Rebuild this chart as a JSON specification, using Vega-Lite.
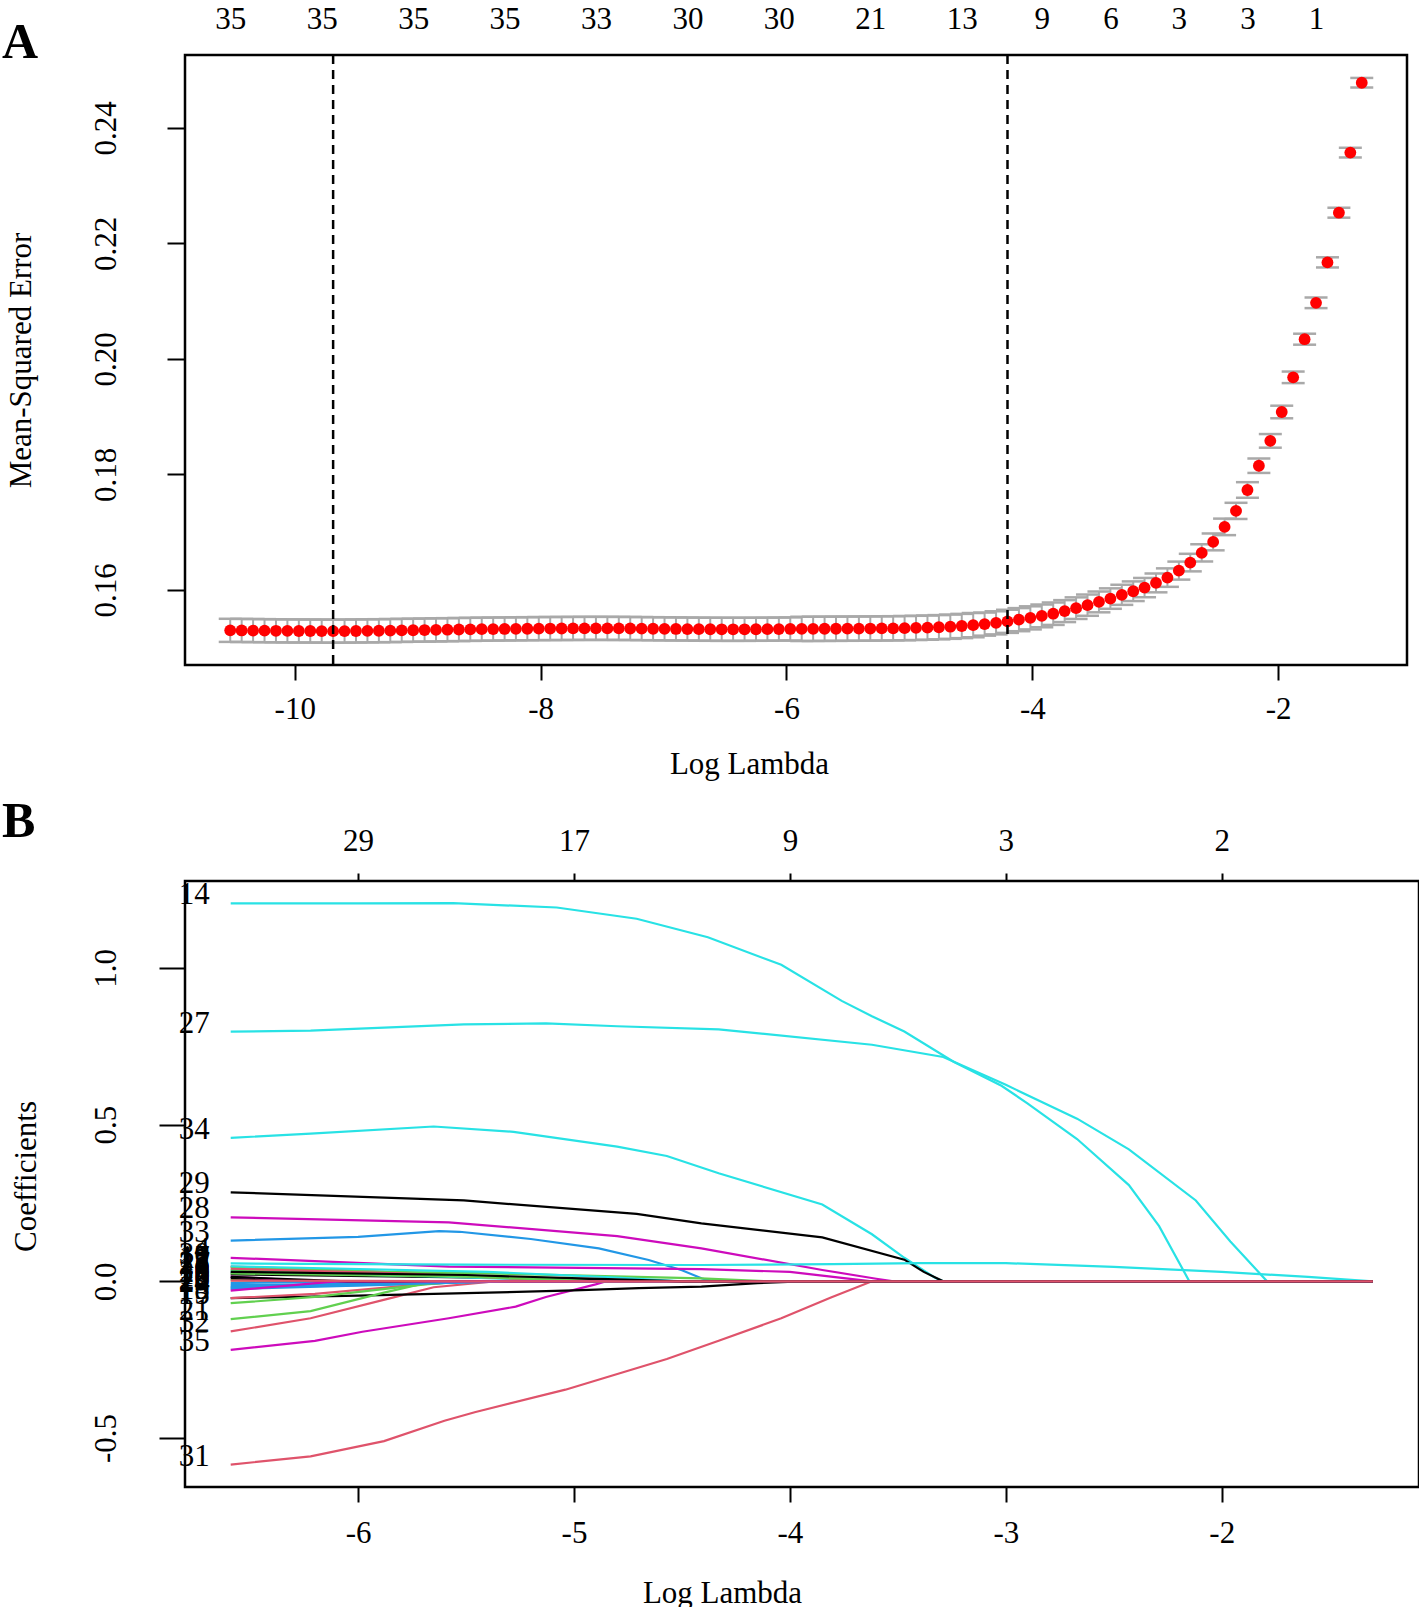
{
"$schema": "https://vega.github.io/schema/vega-lite/v6.json",
"background": "white",
"padding": {"left": 0, "right": 0, "top": 1, "bottom": 0},
"spacing": 14,
"config": {
  "font": "Liberation Serif",
  "view": {"stroke": "black", "strokeWidth": 2.5},
  "axis": {"domain": false, "grid": false, "labelFont": "Liberation Serif", "titleFont": "Liberation Serif", "labelFontSize": 31, "titleFontSize": 31, "labelColor": "black", "titleColor": "black", "tickColor": "black", "tickWidth": 2, "titleFontWeight": "normal", "labelOverlap": false, "labelFlush": false}
},
"vconcat": [
{
  "width": 1222, "height": 610,
  "title": {"text": "A", "anchor": "start", "frame": "group", "orient": "top", "offset": 0, "dx": -183, "dy": 105, "fontSize": 50, "fontWeight": "bold", "font": "Liberation Serif", "baseline": "alphabetic", "color": "black"},
  "data": {"values": [
{"lam":-10.525,"mse":0.15300,"up":0.15500,"lo":0.15100},
{"lam":-10.432,"mse":0.15298,"up":0.15498,"lo":0.15098},
{"lam":-10.339,"mse":0.15296,"up":0.15496,"lo":0.15096},
{"lam":-10.246,"mse":0.15294,"up":0.15494,"lo":0.15094},
{"lam":-10.153,"mse":0.15292,"up":0.15492,"lo":0.15092},
{"lam":-10.060,"mse":0.15290,"up":0.15490,"lo":0.15090},
{"lam":-9.967,"mse":0.15289,"up":0.15489,"lo":0.15089},
{"lam":-9.874,"mse":0.15288,"up":0.15488,"lo":0.15088},
{"lam":-9.781,"mse":0.15287,"up":0.15487,"lo":0.15087},
{"lam":-9.688,"mse":0.15286,"up":0.15486,"lo":0.15086},
{"lam":-9.595,"mse":0.15287,"up":0.15487,"lo":0.15087},
{"lam":-9.502,"mse":0.15289,"up":0.15489,"lo":0.15089},
{"lam":-9.409,"mse":0.15291,"up":0.15491,"lo":0.15091},
{"lam":-9.316,"mse":0.15293,"up":0.15493,"lo":0.15093},
{"lam":-9.223,"mse":0.15296,"up":0.15496,"lo":0.15096},
{"lam":-9.130,"mse":0.15299,"up":0.15499,"lo":0.15099},
{"lam":-9.037,"mse":0.15302,"up":0.15502,"lo":0.15102},
{"lam":-8.944,"mse":0.15305,"up":0.15505,"lo":0.15105},
{"lam":-8.851,"mse":0.15308,"up":0.15508,"lo":0.15108},
{"lam":-8.758,"mse":0.15311,"up":0.15511,"lo":0.15111},
{"lam":-8.665,"mse":0.15314,"up":0.15514,"lo":0.15114},
{"lam":-8.572,"mse":0.15317,"up":0.15517,"lo":0.15117},
{"lam":-8.479,"mse":0.15320,"up":0.15520,"lo":0.15120},
{"lam":-8.386,"mse":0.15322,"up":0.15522,"lo":0.15122},
{"lam":-8.293,"mse":0.15324,"up":0.15524,"lo":0.15124},
{"lam":-8.201,"mse":0.15326,"up":0.15526,"lo":0.15126},
{"lam":-8.108,"mse":0.15328,"up":0.15528,"lo":0.15128},
{"lam":-8.015,"mse":0.15330,"up":0.15530,"lo":0.15130},
{"lam":-7.922,"mse":0.15331,"up":0.15531,"lo":0.15131},
{"lam":-7.829,"mse":0.15332,"up":0.15532,"lo":0.15132},
{"lam":-7.736,"mse":0.15333,"up":0.15533,"lo":0.15133},
{"lam":-7.643,"mse":0.15334,"up":0.15534,"lo":0.15134},
{"lam":-7.550,"mse":0.15334,"up":0.15534,"lo":0.15134},
{"lam":-7.457,"mse":0.15334,"up":0.15534,"lo":0.15134},
{"lam":-7.364,"mse":0.15333,"up":0.15533,"lo":0.15133},
{"lam":-7.271,"mse":0.15332,"up":0.15532,"lo":0.15132},
{"lam":-7.178,"mse":0.15330,"up":0.15530,"lo":0.15130},
{"lam":-7.085,"mse":0.15328,"up":0.15528,"lo":0.15128},
{"lam":-6.992,"mse":0.15326,"up":0.15526,"lo":0.15126},
{"lam":-6.899,"mse":0.15324,"up":0.15524,"lo":0.15124},
{"lam":-6.806,"mse":0.15322,"up":0.15522,"lo":0.15122},
{"lam":-6.713,"mse":0.15320,"up":0.15520,"lo":0.15120},
{"lam":-6.620,"mse":0.15319,"up":0.15519,"lo":0.15119},
{"lam":-6.527,"mse":0.15318,"up":0.15518,"lo":0.15118},
{"lam":-6.434,"mse":0.15318,"up":0.15518,"lo":0.15118},
{"lam":-6.341,"mse":0.15318,"up":0.15518,"lo":0.15118},
{"lam":-6.248,"mse":0.15319,"up":0.15519,"lo":0.15119},
{"lam":-6.155,"mse":0.15320,"up":0.15520,"lo":0.15120},
{"lam":-6.062,"mse":0.15322,"up":0.15522,"lo":0.15122},
{"lam":-5.969,"mse":0.15324,"up":0.15524,"lo":0.15124},
{"lam":-5.876,"mse":0.15325,"up":0.15535,"lo":0.15115},
{"lam":-5.783,"mse":0.15326,"up":0.15536,"lo":0.15116},
{"lam":-5.690,"mse":0.15327,"up":0.15537,"lo":0.15117},
{"lam":-5.597,"mse":0.15328,"up":0.15538,"lo":0.15118},
{"lam":-5.504,"mse":0.15329,"up":0.15539,"lo":0.15119},
{"lam":-5.411,"mse":0.15330,"up":0.15540,"lo":0.15120},
{"lam":-5.318,"mse":0.15331,"up":0.15541,"lo":0.15121},
{"lam":-5.225,"mse":0.15333,"up":0.15543,"lo":0.15123},
{"lam":-5.132,"mse":0.15335,"up":0.15545,"lo":0.15125},
{"lam":-5.039,"mse":0.15338,"up":0.15548,"lo":0.15128},
{"lam":-4.946,"mse":0.15342,"up":0.15552,"lo":0.15132},
{"lam":-4.853,"mse":0.15347,"up":0.15557,"lo":0.15137},
{"lam":-4.760,"mse":0.15354,"up":0.15564,"lo":0.15144},
{"lam":-4.667,"mse":0.15363,"up":0.15573,"lo":0.15153},
{"lam":-4.574,"mse":0.15375,"up":0.15585,"lo":0.15165},
{"lam":-4.481,"mse":0.15390,"up":0.15600,"lo":0.15180},
{"lam":-4.388,"mse":0.15408,"up":0.15608,"lo":0.15208},
{"lam":-4.295,"mse":0.15430,"up":0.15630,"lo":0.15230},
{"lam":-4.202,"mse":0.15456,"up":0.15656,"lo":0.15256},
{"lam":-4.109,"mse":0.15485,"up":0.15685,"lo":0.15285},
{"lam":-4.016,"mse":0.15516,"up":0.15716,"lo":0.15316},
{"lam":-3.923,"mse":0.15550,"up":0.15747,"lo":0.15353},
{"lam":-3.830,"mse":0.15588,"up":0.15782,"lo":0.15394},
{"lam":-3.737,"mse":0.15633,"up":0.15823,"lo":0.15443},
{"lam":-3.644,"mse":0.15684,"up":0.15871,"lo":0.15497},
{"lam":-3.551,"mse":0.15736,"up":0.15920,"lo":0.15552},
{"lam":-3.458,"mse":0.15792,"up":0.15972,"lo":0.15612},
{"lam":-3.365,"mse":0.15850,"up":0.16027,"lo":0.15673},
{"lam":-3.272,"mse":0.15915,"up":0.16089,"lo":0.15741},
{"lam":-3.179,"mse":0.15977,"up":0.16147,"lo":0.15807},
{"lam":-3.087,"mse":0.16040,"up":0.16207,"lo":0.15873},
{"lam":-2.994,"mse":0.16121,"up":0.16284,"lo":0.15958},
{"lam":-2.901,"mse":0.16213,"up":0.16373,"lo":0.16053},
{"lam":-2.808,"mse":0.16334,"up":0.16490,"lo":0.16178},
{"lam":-2.715,"mse":0.16473,"up":0.16625,"lo":0.16321},
{"lam":-2.622,"mse":0.16641,"up":0.16790,"lo":0.16492},
{"lam":-2.529,"mse":0.16831,"up":0.16977,"lo":0.16685},
{"lam":-2.436,"mse":0.17091,"up":0.17234,"lo":0.16948},
{"lam":-2.343,"mse":0.17368,"up":0.17508,"lo":0.17228},
{"lam":-2.250,"mse":0.17730,"up":0.17865,"lo":0.17595},
{"lam":-2.157,"mse":0.18150,"up":0.18275,"lo":0.18025},
{"lam":-2.064,"mse":0.18580,"up":0.18698,"lo":0.18462},
{"lam":-1.971,"mse":0.19080,"up":0.19189,"lo":0.18971},
{"lam":-1.878,"mse":0.19680,"up":0.19780,"lo":0.19580},
{"lam":-1.785,"mse":0.20340,"up":0.20435,"lo":0.20245},
{"lam":-1.692,"mse":0.20970,"up":0.21062,"lo":0.20878},
{"lam":-1.599,"mse":0.21670,"up":0.21758,"lo":0.21582},
{"lam":-1.506,"mse":0.22530,"up":0.22616,"lo":0.22444},
{"lam":-1.413,"mse":0.23570,"up":0.23654,"lo":0.23486},
{"lam":-1.320,"mse":0.24780,"up":0.24863,"lo":0.24697}
  ]},
  "layer": [
    {"mark": {"type": "rule", "color": "#A9A9A9", "strokeWidth": 2},
     "encoding": {
       "x": {"field": "lam", "type": "quantitative", "scale": {"domain": [-10.893, -0.952], "nice": false, "zero": false},
             "axis": {"orient": "bottom", "values": [-10, -8, -6, -4, -2], "tickSize": 15, "labelPadding": 14, "titlePadding": 25, "title": "Log Lambda", "titleX": 564, "labelExpr": "'-' + format(abs(datum.value), 'd')"}},
       "y": {"field": "lo", "type": "quantitative", "scale": {"domain": [0.147, 0.2526], "nice": false, "zero": false},
             "axis": {"values": [0.16, 0.18, 0.2, 0.22, 0.24], "format": ".2f", "labelAngle": -90, "labelAlign": "center", "labelBaseline": "bottom", "tickSize": 18, "labelPadding": 45, "titlePadding": 53, "title": "Mean-Squared Error"}},
       "y2": {"field": "up"}}},
    {"mark": {"type": "tick", "orient": "horizontal", "color": "#A9A9A9", "size": 23, "thickness": 2.5, "opacity": 1},
     "encoding": {"x": {"field": "lam", "type": "quantitative", "axis": null}, "y": {"field": "up", "type": "quantitative"}}},
    {"mark": {"type": "tick", "orient": "horizontal", "color": "#A9A9A9", "size": 23, "thickness": 2.5, "opacity": 1},
     "encoding": {"x": {"field": "lam", "type": "quantitative", "axis": null}, "y": {"field": "lo", "type": "quantitative"}}},
    {"mark": {"type": "circle", "color": "#FF0000", "size": 140, "opacity": 1},
     "encoding": {"x": {"field": "lam", "type": "quantitative", "axis": null}, "y": {"field": "mse", "type": "quantitative"}}},
    {"data": {"values": [{"v": -9.688}, {"v": -4.202}]},
     "mark": {"type": "rule", "color": "black", "strokeWidth": 2.5, "strokeDash": [9, 6]},
     "encoding": {"x": {"field": "v", "type": "quantitative",
        "axis": {"orient": "top", "title": null, "ticks": false, "tickSize": 0, "labelPadding": 20,
                 "values": [-10.525, -9.781, -9.037, -8.293, -7.55, -6.806, -6.062, -5.318, -4.574, -3.923, -3.365, -2.808, -2.25, -1.692],
                 "labelExpr": "['35','35','35','35','33','30','30','21','13','9','6','3','3','1'][indexof([-10.525, -9.781, -9.037, -8.293, -7.55, -6.806, -6.062, -5.318, -4.574, -3.923, -3.365, -2.808, -2.25, -1.692], datum.value)]"}}}}
  ],
  "resolve": {"axis": {"x": "independent"}}
},
{
  "width": 1234, "height": 606,
  "title": {"text": "B", "anchor": "start", "frame": "group", "orient": "top", "offset": 0, "dx": -183, "dy": 62, "fontSize": 50, "fontWeight": "bold", "font": "Liberation Serif", "baseline": "alphabetic", "color": "black"},
  "data": {"values": [
{"var":"14","lam":-6.59,"coef":1.206},{"var":"14","lam":-6.0,"coef":1.206},{"var":"14","lam":-5.56,"coef":1.207},{"var":"14","lam":-5.08,"coef":1.193},{"var":"14","lam":-4.71,"coef":1.157},{"var":"14","lam":-4.38,"coef":1.098},{"var":"14","lam":-4.04,"coef":1.01},{"var":"14","lam":-3.76,"coef":0.895},{"var":"14","lam":-3.62,"coef":0.846},{"var":"14","lam":-3.47,"coef":0.797},{"var":"14","lam":-3.24,"coef":0.70},{"var":"14","lam":-3.02,"coef":0.624},{"var":"14","lam":-2.90,"coef":0.568},{"var":"14","lam":-2.67,"coef":0.454},{"var":"14","lam":-2.43,"coef":0.307},{"var":"14","lam":-2.29,"coef":0.176},{"var":"14","lam":-2.15,"coef":0},{"var":"14","lam":-1.3,"coef":0},
{"var":"27","lam":-6.59,"coef":0.797},{"var":"27","lam":-6.22,"coef":0.80},{"var":"27","lam":-5.51,"coef":0.82},{"var":"27","lam":-5.13,"coef":0.823},{"var":"27","lam":-4.80,"coef":0.814},{"var":"27","lam":-4.33,"coef":0.804},{"var":"27","lam":-3.62,"coef":0.755},{"var":"27","lam":-3.29,"coef":0.716},{"var":"27","lam":-3.0,"coef":0.627},{"var":"27","lam":-2.67,"coef":0.519},{"var":"27","lam":-2.43,"coef":0.421},{"var":"27","lam":-2.12,"coef":0.258},{"var":"27","lam":-1.96,"coef":0.127},{"var":"27","lam":-1.79,"coef":0},{"var":"27","lam":-1.3,"coef":0},
{"var":"34","lam":-6.59,"coef":0.458},{"var":"34","lam":-6.22,"coef":0.471},{"var":"34","lam":-5.65,"coef":0.494},{"var":"34","lam":-5.28,"coef":0.477},{"var":"34","lam":-4.80,"coef":0.43},{"var":"34","lam":-4.57,"coef":0.40},{"var":"34","lam":-4.33,"coef":0.345},{"var":"34","lam":-3.85,"coef":0.245},{"var":"34","lam":-3.62,"coef":0.15},{"var":"34","lam":-3.47,"coef":0.075},{"var":"34","lam":-3.33,"coef":0.012},{"var":"34","lam":-3.29,"coef":0},{"var":"34","lam":-1.3,"coef":0},
{"var":"29","lam":-6.59,"coef":0.284},{"var":"29","lam":-5.51,"coef":0.258},{"var":"29","lam":-4.71,"coef":0.215},{"var":"29","lam":-4.41,"coef":0.185},{"var":"29","lam":-3.85,"coef":0.14},{"var":"29","lam":-3.47,"coef":0.069},{"var":"29","lam":-3.38,"coef":0.03},{"var":"29","lam":-3.29,"coef":0},{"var":"29","lam":-1.3,"coef":0},
{"var":"28","lam":-6.59,"coef":0.204},{"var":"28","lam":-5.58,"coef":0.188},{"var":"28","lam":-4.80,"coef":0.144},{"var":"28","lam":-4.41,"coef":0.105},{"var":"28","lam":-3.85,"coef":0.036},{"var":"28","lam":-3.6,"coef":0.008},{"var":"28","lam":-3.52,"coef":0},{"var":"28","lam":-1.3,"coef":0},
{"var":"33","lam":-6.59,"coef":0.130},{"var":"33","lam":-6.0,"coef":0.142},{"var":"33","lam":-5.625,"coef":0.160},{"var":"33","lam":-5.53,"coef":0.158},{"var":"33","lam":-5.2,"coef":0.135},{"var":"33","lam":-4.885,"coef":0.105},{"var":"33","lam":-4.654,"coef":0.068},{"var":"33","lam":-4.5,"coef":0.035},{"var":"33","lam":-4.407,"coef":0.009},{"var":"33","lam":-4.35,"coef":0},{"var":"33","lam":-1.3,"coef":0},
{"var":"31","lam":-6.59,"coef":-0.585},{"var":"31","lam":-6.22,"coef":-0.559},{"var":"31","lam":-5.88,"coef":-0.510},{"var":"31","lam":-5.60,"coef":-0.445},{"var":"31","lam":-5.46,"coef":-0.418},{"var":"31","lam":-5.04,"coef":-0.346},{"var":"31","lam":-4.57,"coef":-0.248},{"var":"31","lam":-4.33,"coef":-0.190},{"var":"31","lam":-4.04,"coef":-0.118},{"var":"31","lam":-3.81,"coef":-0.052},{"var":"31","lam":-3.62,"coef":0},{"var":"31","lam":-1.3,"coef":0},
{"var":"32","lam":-6.59,"coef":-0.160},{"var":"32","lam":-6.22,"coef":-0.118},{"var":"32","lam":-5.84,"coef":-0.052},{"var":"32","lam":-5.65,"coef":-0.019},{"var":"32","lam":-5.37,"coef":0},{"var":"32","lam":-1.3,"coef":0},
{"var":"35","lam":-6.59,"coef":-0.219},{"var":"35","lam":-6.2,"coef":-0.19},{"var":"35","lam":-5.98,"coef":-0.161},{"var":"35","lam":-5.58,"coef":-0.118},{"var":"35","lam":-5.27,"coef":-0.081},{"var":"35","lam":-5.13,"coef":-0.05},{"var":"35","lam":-4.9,"coef":-0.01},{"var":"35","lam":-4.85,"coef":0},{"var":"35","lam":-1.3,"coef":0},
{"var":"4","lam":-6.59,"coef":0.075},{"var":"4","lam":-5.58,"coef":0.047},{"var":"4","lam":-4.41,"coef":0.039},{"var":"4","lam":-4.0,"coef":0.03},{"var":"4","lam":-3.8,"coef":0.014},{"var":"4","lam":-3.62,"coef":0},{"var":"4","lam":-1.3,"coef":0},
{"var":"30","lam":-6.59,"coef":0.057},{"var":"30","lam":-5.5,"coef":0.053},{"var":"30","lam":-4.41,"coef":0.052},{"var":"30","lam":-3.8,"coef":0.055},{"var":"30","lam":-3.4,"coef":0.058},{"var":"30","lam":-3.0,"coef":0.058},{"var":"30","lam":-2.5,"coef":0.046},{"var":"30","lam":-2.0,"coef":0.03},{"var":"30","lam":-1.6,"coef":0.014},{"var":"30","lam":-1.3,"coef":0},
{"var":"2","lam":-6.59,"coef":0.047},{"var":"2","lam":-6.0,"coef":0.034},{"var":"2","lam":-5.27,"coef":0.009},{"var":"2","lam":-5.0,"coef":0},{"var":"2","lam":-1.3,"coef":0},
{"var":"3","lam":-6.59,"coef":0.036},{"var":"3","lam":-5.5,"coef":0.027},{"var":"3","lam":-4.41,"coef":0.009},{"var":"3","lam":-4.1,"coef":0},{"var":"3","lam":-1.3,"coef":0},
{"var":"7","lam":-6.59,"coef":0.022},{"var":"7","lam":-5.5,"coef":0.012},{"var":"7","lam":-4.8,"coef":0.004},{"var":"7","lam":-4.6,"coef":0},{"var":"7","lam":-1.3,"coef":0},
{"var":"9","lam":-6.59,"coef":0.004},{"var":"9","lam":-6.45,"coef":0.002},{"var":"9","lam":-6.3,"coef":0},{"var":"9","lam":-1.3,"coef":0},
{"var":"10","lam":-6.59,"coef":-0.012},{"var":"10","lam":-6.0,"coef":-0.008},{"var":"10","lam":-5.56,"coef":0},{"var":"10","lam":-1.3,"coef":0},
{"var":"16","lam":-6.59,"coef":-0.018},{"var":"16","lam":-5.9,"coef":-0.008},{"var":"16","lam":-5.5,"coef":0},{"var":"16","lam":-1.3,"coef":0},
{"var":"22","lam":-6.59,"coef":-0.025},{"var":"22","lam":-5.8,"coef":-0.01},{"var":"22","lam":-5.4,"coef":0},{"var":"22","lam":-1.3,"coef":0},
{"var":"19","lam":-6.59,"coef":-0.054},{"var":"19","lam":-6.0,"coef":-0.046},{"var":"19","lam":-5.5,"coef":-0.038},{"var":"19","lam":-5.0,"coef":-0.029},{"var":"19","lam":-4.7,"coef":-0.022},{"var":"19","lam":-4.41,"coef":-0.017},{"var":"19","lam":-4.15,"coef":-0.006},{"var":"19","lam":-3.95,"coef":0},{"var":"19","lam":-1.3,"coef":0},
{"var":"8","lam":-6.59,"coef":-0.054},{"var":"8","lam":-6.2,"coef":-0.04},{"var":"8","lam":-5.73,"coef":-0.011},{"var":"8","lam":-5.5,"coef":0},{"var":"8","lam":-1.3,"coef":0},
{"var":"15","lam":-6.59,"coef":-0.070},{"var":"15","lam":-6.2,"coef":-0.05},{"var":"15","lam":-5.69,"coef":-0.01},{"var":"15","lam":-5.5,"coef":0},{"var":"15","lam":-1.3,"coef":0},
{"var":"21","lam":-6.59,"coef":-0.121},{"var":"21","lam":-6.22,"coef":-0.095},{"var":"21","lam":-5.88,"coef":-0.036},{"var":"21","lam":-5.65,"coef":0},{"var":"21","lam":-1.3,"coef":0},
{"var":"1","lam":-6.59,"coef":0.010},{"var":"1","lam":-6.15,"coef":0},{"var":"1","lam":-1.3,"coef":0},
{"var":"5","lam":-6.59,"coef":0.030},{"var":"5","lam":-5.6,"coef":0.015},{"var":"5","lam":-5.0,"coef":0},{"var":"5","lam":-1.3,"coef":0},
{"var":"6","lam":-6.59,"coef":0.015},{"var":"6","lam":-6.2,"coef":0},{"var":"6","lam":-1.3,"coef":0},
{"var":"11","lam":-6.59,"coef":0.045},{"var":"11","lam":-5.9,"coef":0.03},{"var":"11","lam":-5.2,"coef":0.01},{"var":"11","lam":-4.9,"coef":0},{"var":"11","lam":-1.3,"coef":0},
{"var":"12","lam":-6.59,"coef":0.040},{"var":"12","lam":-5.8,"coef":0.025},{"var":"12","lam":-5.2,"coef":0.006},{"var":"12","lam":-5.0,"coef":0},{"var":"12","lam":-1.3,"coef":0},
{"var":"13","lam":-6.59,"coef":-0.006},{"var":"13","lam":-6.1,"coef":0},{"var":"13","lam":-1.3,"coef":0},
{"var":"17","lam":-6.59,"coef":0.048},{"var":"17","lam":-5.4,"coef":0.03},{"var":"17","lam":-4.8,"coef":0.012},{"var":"17","lam":-4.5,"coef":0},{"var":"17","lam":-1.3,"coef":0},
{"var":"18","lam":-6.59,"coef":0.014},{"var":"18","lam":-6.05,"coef":0},{"var":"18","lam":-1.3,"coef":0},
{"var":"20","lam":-6.59,"coef":-0.020},{"var":"20","lam":-6.0,"coef":-0.012},{"var":"20","lam":-5.3,"coef":0},{"var":"20","lam":-1.3,"coef":0},
{"var":"23","lam":-6.59,"coef":0.025},{"var":"23","lam":-5.5,"coef":0.015},{"var":"23","lam":-4.9,"coef":0},{"var":"23","lam":-1.3,"coef":0},
{"var":"24","lam":-6.59,"coef":-0.030},{"var":"24","lam":-6.3,"coef":-0.012},{"var":"24","lam":-6.1,"coef":0},{"var":"24","lam":-1.3,"coef":0},
{"var":"25","lam":-6.59,"coef":0.030},{"var":"25","lam":-5.5,"coef":0.02},{"var":"25","lam":-4.8,"coef":0.006},{"var":"25","lam":-4.5,"coef":0},{"var":"25","lam":-1.3,"coef":0},
{"var":"26","lam":-6.59,"coef":0.002},{"var":"26","lam":-6.0,"coef":0.001},{"var":"26","lam":-5.5,"coef":0},{"var":"26","lam":-1.3,"coef":0}
  ]},
  "layer": [
    {"mark": {"type": "line", "strokeWidth": 2.2},
     "encoding": {
       "x": {"field": "lam", "type": "quantitative", "scale": {"domain": [-6.8017, -1.0863], "nice": false, "zero": false},
             "axis": {"orient": "bottom", "values": [-6, -5, -4, -3, -2], "tickSize": 15, "labelPadding": 16, "titlePadding": 30, "title": "Log Lambda", "titleX": 537, "labelExpr": "'-' + format(abs(datum.value), 'd')"}},
       "y": {"field": "coef", "type": "quantitative", "scale": {"domain": [-0.6566, 1.2776], "nice": false, "zero": false},
             "axis": {"values": [-0.5, 0, 0.5, 1], "labelExpr": "datum.value < 0 ? '-' + format(-datum.value, '.1f') : format(datum.value, '.1f')", "labelAngle": -90, "labelAlign": "center", "labelBaseline": "bottom", "tickSize": 26, "labelPadding": 37, "titlePadding": 48, "titleY": 295, "title": "Coefficients"}},
       "color": {"field": "var", "type": "nominal", "legend": null,
                 "scale": {"domain": ["14","27","34","29","28","33","31","32","35","4","30","2","3","7","9","10","16","22","19","8","15","21","1","5","6","11","12","13","17","18","20","23","24","25","26"],
                           "range": ["#28E2E5","#28E2E5","#28E2E5","#000000","#CD0BBC","#2297E6","#DF536B","#DF536B","#CD0BBC","#CD0BBC","#28E2E5","#DF536B","#61D04F","#000000","#61D04F","#2297E6","#2297E6","#2297E6","#000000","#DF536B","#61D04F","#61D04F","#000000","#28E2E5","#CD0BBC","#61D04F","#DF536B","#2297E6","#28E2E5","#000000","#2297E6","#61D04F","#CD0BBC","#000000","#DF536B"]}}}},
    {"transform": [{"filter": "datum.lam == -6.59"}],
     "mark": {"type": "text", "align": "right", "baseline": "middle", "dx": -21, "dy": -8, "fontSize": 31, "font": "Liberation Serif", "color": "black"},
     "encoding": {
       "x": {"field": "lam", "type": "quantitative",
             "axis": {"orient": "top", "title": null, "values": [-6, -5, -4, -3, -2], "tickSize": 8, "labelPadding": 16,
                      "labelExpr": "['29','17','9','3','2'][indexof([-6, -5, -4, -3, -2], datum.value)]"}},
       "y": {"field": "coef", "type": "quantitative"},
       "text": {"field": "var", "type": "nominal"}}}
  ],
  "resolve": {"axis": {"x": "independent"}}
}
]
}
